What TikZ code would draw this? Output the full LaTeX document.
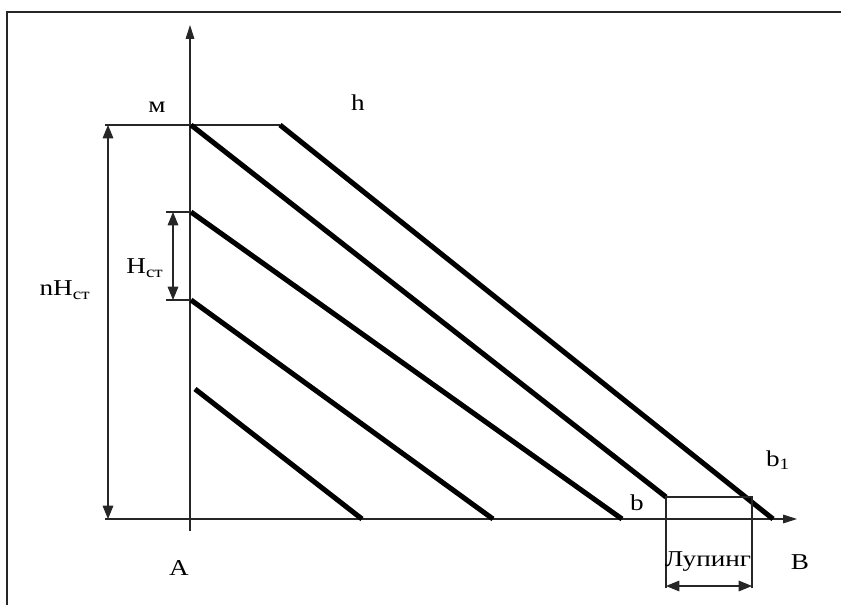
\documentclass[tikz,border=0pt]{standalone}
\usepackage{fontspec}
\setmainfont{Liberation Serif}
\usetikzlibrary{arrows.meta}
\begin{document}
\begin{tikzpicture}[x=0.75pt,y=-0.75pt,
  thin line/.style={line width=0.8pt,black!85},
  thick line/.style={line width=3.8pt},
  tip/.style={-{Triangle[length=10.5pt,width=6.5pt]}},
  dtip/.style={{Triangle[length=10pt,width=8pt]}-{Triangle[length=10pt,width=8pt]}},
  lbl/.style={font=\fontsize{17}{19}\selectfont,inner sep=0pt,xscale=1.2}]
\useasboundingbox (0,0) rectangle (841,605);
% frame
\draw[thin line] (841,12) -- (7,12) -- (7,605);
% coordinates
\coordinate (O) at (190,519);
\coordinate (Ybot) at (190,531);
\coordinate (Ytop) at (190,25);
\coordinate (Xl) at (105,519);
\coordinate (Xr) at (797,519);
\coordinate (M) at (191,125);
\coordinate (Ml) at (105,125);
\coordinate (Mr) at (280,125);
\coordinate (P1) at (191,212);
\coordinate (P1l) at (166,212);
\coordinate (P2) at (191,300);
\coordinate (P2l) at (166,300);
\coordinate (P3) at (195,389);
\coordinate (E1) at (666,497);
\coordinate (E2) at (773,519);
\coordinate (E3) at (622,519);
\coordinate (E4) at (493,519);
\coordinate (E5) at (362,519);
\coordinate (Q1) at (752,497);
\coordinate (Lb1) at (666,588);
\coordinate (Lb2) at (752,588);
\coordinate (La1) at (666,586);
\coordinate (La2) at (752,586);
% axes
\draw[thin line,tip] (Ybot) -- (Ytop);
\draw[thin line,tip] (Xl) -- (Xr);
% horizontal level lines
\draw[thin line] (Ml) -- (Mr);
\draw[thin line] (P1l) -- (P1);
\draw[thin line] (P2l) -- (P2);
% dimension arrows
\draw[thin line,dtip] (108,125) -- (108,519);
\draw[thin line,dtip] (173,212) -- (173,300);
% thick lines
\draw[thick line] (M) -- (E1);
\draw[thick line] (Mr) -- (E2);
\draw[thick line] (P1) -- (E3);
\draw[thick line] (P2) -- (E4);
\draw[thick line] (P3) -- (E5);
% looping box
\draw[thin line] (Lb1) -- (E1) -- (Q1) -- (Lb2);
\draw[thin line,dtip] (La1) -- (La2);
% labels
\node[lbl] (lm) at (157,107) {м};
\node[lbl] (lh) at (358,103) {h};
\node[lbl] (lnH) at (65,290) {nH\textsubscript{ст}};
\node[lbl] (lH) at (145,268) {H\textsubscript{ст}};
\node[lbl] (lb) at (637,503) {b};
\node[lbl] (lb1) at (778,460) {b\textsubscript{1}};
\node[lbl] (lB) at (800,562) {B};
\node[lbl] (lA) at (179,568) {A};
\node[lbl] (lL) at (708,562) {Лупинг};
\end{tikzpicture}
\end{document}
